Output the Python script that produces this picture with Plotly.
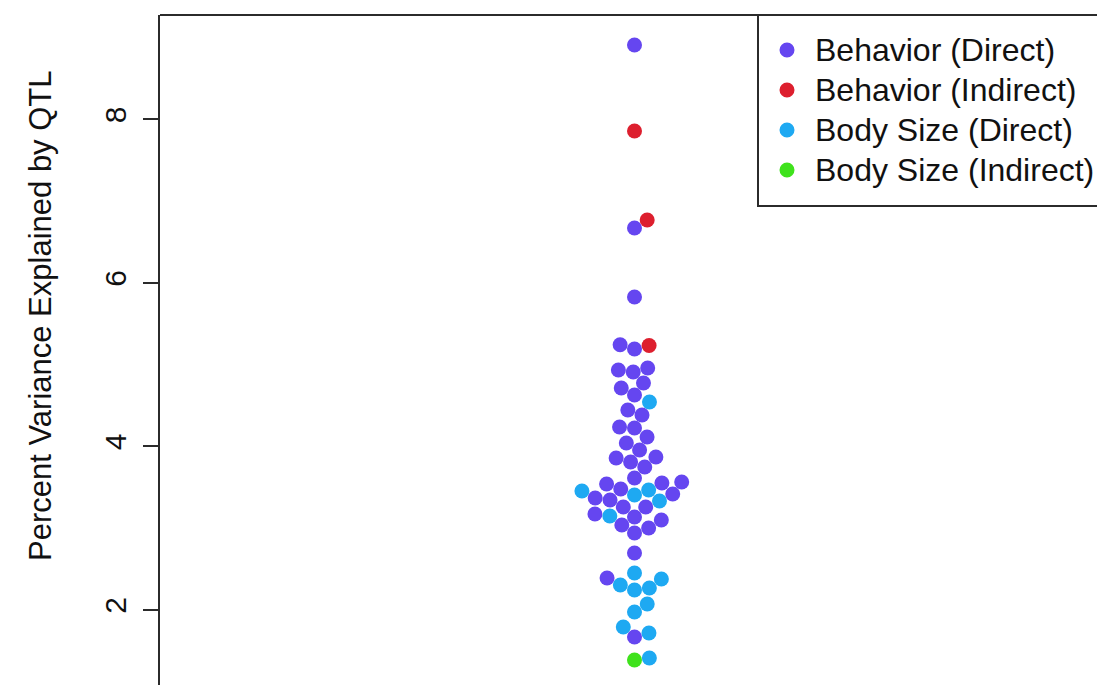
import numpy as np
import plotly.graph_objects as go

# ---- data -------------------------------------------------------------
categories = ["Behavior (Direct)", "Behavior (Indirect)",
              "Body Size (Direct)", "Body Size (Indirect)"]

behavior_direct = [8.911, 6.673, 5.829, 5.245, 5.193, 4.960, 4.936, 4.911,
                   4.777, 4.716, 4.630, 4.446, 4.385, 4.239, 4.226, 4.116,
                   4.043, 3.957, 3.872, 3.859, 3.810, 3.749, 3.615, 3.566,
                   3.554, 3.541, 3.480, 3.419, 3.370, 3.346, 3.260, 3.260,
                   3.174, 3.138, 3.101, 3.040, 3.003, 2.942, 2.697, 2.391,
                   1.670]
behavior_indirect = [7.859, 6.771, 5.235]
body_size_direct = [4.544, 3.468, 3.456, 3.407, 3.333, 3.150, 2.453, 2.379,
                    2.306, 2.269, 2.245, 2.073, 1.976, 1.792, 1.719, 1.413]
body_size_indirect = [1.388]

series = [behavior_direct, behavior_indirect, body_size_direct, body_size_indirect]
colors = ["#6546F0", "#DD1F2E", "#1EA9F2", "#3FE21C"]

y_title = "Percent Variance Explained by QTL"
y_ticks = [2, 4, 6, 8]

# ---- layout constants ----------------------------------------------
W, H = 1097, 685
ML, MT = 160, 15
PLOT_W, PLOT_H = W - ML, H - MT
Y_RANGE = [1.0826, 9.278]
X_UNIT_PX = 949.0                      # pixels per x unit (group at x = 1)
X_RANGE = [0.5, 0.5 + PLOT_W / X_UNIT_PX]
Y_UNIT_PX = PLOT_H / (Y_RANGE[1] - Y_RANGE[0])
SPACING = 15.0                         # swarm spacing in pixels
MARKER = 15


def swarm_offsets(values):
    """Beeswarm 'swarm' layout (ascending priority); offsets in pixels."""
    vals = np.asarray(values, dtype=float)
    ypx = vals * Y_UNIT_PX
    order = np.argsort(ypx, kind="stable")
    placed_x, placed_y = [], []
    offsets = np.zeros(len(vals))
    for i in order:
        yi = ypx[i]
        px = np.array(placed_x)
        py = np.array(placed_y)
        if len(px):
            near = np.abs(py - yi) < SPACING
            px_n, py_n = px[near], py[near]
        else:
            px_n, py_n = px, py
        if len(px_n):
            off = np.sqrt(SPACING ** 2 - (py_n - yi) ** 2)
            cand = np.concatenate([[0.0], px_n + off, px_n - off])
            bad = np.array([np.any((c - px_n) ** 2 + (yi - py_n) ** 2 < 0.999 * SPACING ** 2)
                            for c in cand])
            cand = np.where(bad, np.inf, cand)
            xi = cand[np.argmin(np.abs(cand))]
        else:
            xi = 0.0
        offsets[i] = xi
        placed_x.append(xi)
        placed_y.append(yi)
    return offsets


all_vals = np.concatenate([np.asarray(s, dtype=float) for s in series])
group = np.concatenate([[k] * len(s) for k, s in enumerate(series)])
offs = swarm_offsets(all_vals)
x_all = 1.0 + offs / X_UNIT_PX

fig = go.Figure()
for k, name in enumerate(categories):
    m = group == k
    fig.add_trace(go.Scatter(
        x=x_all[m], y=all_vals[m], mode="markers", name=name,
        marker=dict(size=MARKER, color=colors[k], line=dict(width=0)),
        showlegend=False, hoverinfo="y+name",
    ))


def px_x(p):
    return (p - ML) / PLOT_W


def px_y(p):
    return 1 - (p - MT) / PLOT_H


FONT = "Liberation Sans, Arial, sans-serif"
TXT = "#111111"
LINE = "#2b2b2b"

shapes = [
    # top edge of the plot frame
    dict(type="line", xref="paper", yref="paper", x0=0, x1=1.02, y0=1, y1=1,
         line=dict(color=LINE, width=2)),
    # legend box
    dict(type="rect", xref="paper", yref="paper",
         x0=px_x(758), x1=px_x(1110), y0=px_y(206), y1=px_y(15),
         line=dict(color=LINE, width=2), fillcolor="white", layer="above"),
]
annotations = [
    dict(text=y_title, xref="paper", yref="paper", x=px_x(40), y=px_y(316),
         xanchor="center", yanchor="middle", textangle=-90, showarrow=False,
         font=dict(family=FONT, size=31, color=TXT)),
]
for k, name in enumerate(categories):
    yc = 50 + 40 * k
    shapes.append(dict(type="circle", xref="paper", yref="paper",
                       xsizemode="pixel", ysizemode="pixel",
                       xanchor=px_x(787), yanchor=px_y(yc),
                       x0=-7.5, x1=7.5, y0=-7.5, y1=7.5,
                       fillcolor=colors[k], line=dict(width=0), layer="above"))
    annotations.append(dict(text=name, xref="paper", yref="paper",
                            x=px_x(813), y=px_y(yc), xanchor="left", yanchor="middle",
                            showarrow=False,
                            font=dict(family=FONT, size=32, color=TXT)))

fig.update_layout(
    width=W, height=H,
    margin=dict(l=ML, r=0, t=MT, b=0, pad=0, autoexpand=False),
    paper_bgcolor="white", plot_bgcolor="white",
    showlegend=False,
    xaxis=dict(range=X_RANGE, visible=False, fixedrange=True),
    yaxis=dict(range=Y_RANGE, tickvals=y_ticks, ticktext=[str(t) for t in y_ticks],
               ticks="outside", ticklen=15, tickwidth=2, tickcolor=LINE,
               tickangle=-90, showgrid=False, zeroline=False,
               showline=True, linecolor=LINE, linewidth=2,
               tickfont=dict(family=FONT, size=30, color=TXT),
               ticklabelstandoff=5),
    shapes=shapes, annotations=annotations,
    font=dict(family=FONT),
)

fig.write_html("out.html", config={"displayModeBar": False})
